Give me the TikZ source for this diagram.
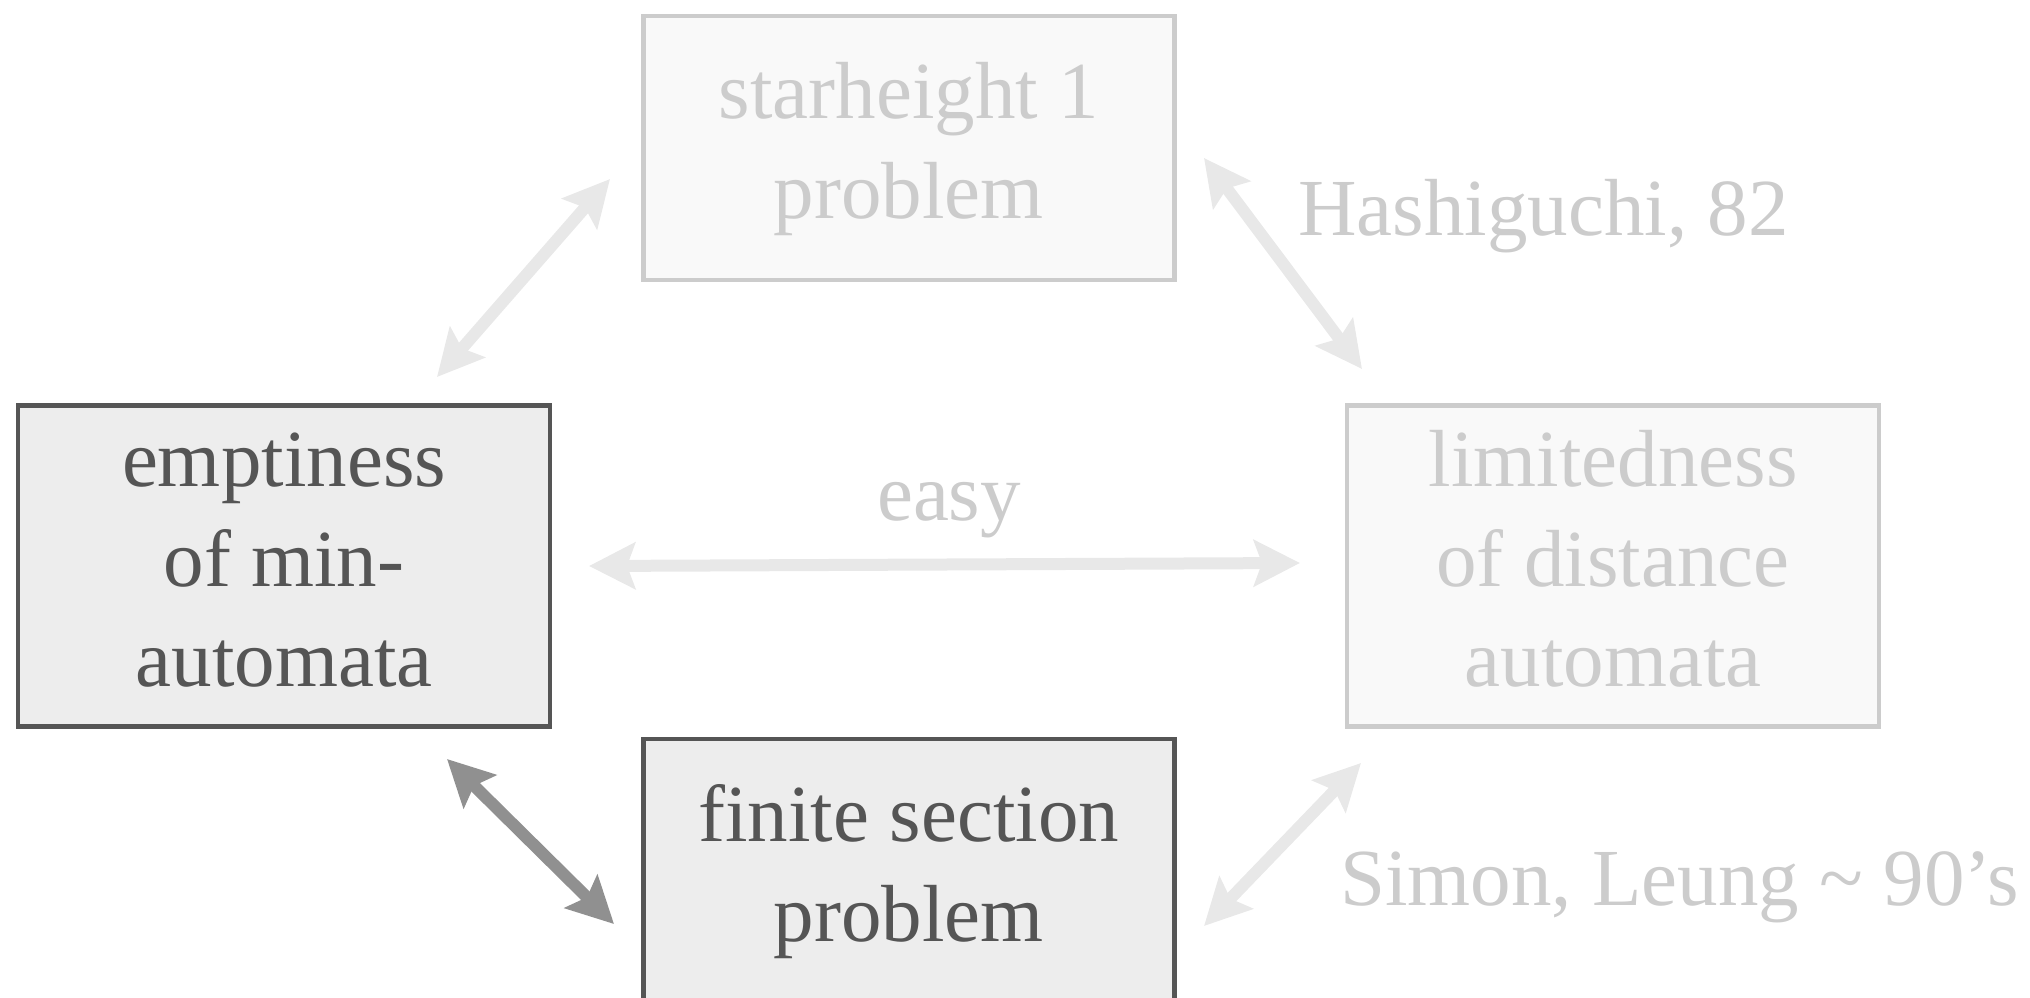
\documentclass[tikz,border=0pt]{standalone}
\usepackage{fontspec}
\setmainfont{Liberation Serif}
\usetikzlibrary{arrows.meta}
\definecolor{darkline}{HTML}{555555}
\definecolor{darkfill}{HTML}{EDEDED}
\definecolor{lightline}{HTML}{CCCCCC}
\definecolor{lightfill}{HTML}{F9F9F9}
\definecolor{lighttext}{HTML}{CCCCCC}
\definecolor{lightarrow}{HTML}{E8E8E8}
\definecolor{darkarrow}{HTML}{909090}
\tikzset{
  bigfont/.style={font=\fontsize{81}{100}\selectfont},
  darkbox/.style={draw=darkline, fill=darkfill, text=darkline, line width=4.5pt, bigfont, align=center, inner sep=0pt},
  lightbox/.style={draw=lightline, fill=lightfill, text=lighttext, line width=4.5pt, bigfont, align=center, inner sep=0pt},
  widebox/.style={minimum width=532pt, minimum height=321pt},
  flatbox/.style={minimum width=531pt, minimum height=264pt},
  note/.style={text=lighttext, bigfont, inner sep=0pt, anchor=base west},
  tipshape/.style={Stealth[length=46pt,width=46pt,inset=8pt]},
  lightarr/.style={draw=lightarrow, line width=12pt, {Stealth[length=46pt,width=46pt,inset=8pt]}-{Stealth[length=46pt,width=46pt,inset=8pt]}},
  darkarr/.style={draw=darkarrow, line width=12pt, {Stealth[length=46pt,width=46pt,inset=8pt]}-{Stealth[length=46pt,width=46pt,inset=8pt]}}
}
\begin{document}
\begin{tikzpicture}[x=1pt,y=-1pt]
\useasboundingbox (0,0) rectangle (2030,997);
\begin{scope}
\clip (0,0) rectangle (2030,997);
\node[lightbox, flatbox] (top) at (908.75,148) {\strut starheight 1\\\strut problem};
\node[darkbox, widebox] (left) at (284,566) {\strut emptiness\\\strut of min-\\\strut automata};
\node[lightbox, widebox] (right) at (1613,566) {\strut limitedness\\\strut of distance\\\strut automata};
\node[darkbox, flatbox] (bottom) at (908.75,871) {\strut finite section\\\strut problem};

\node[note] (hashi) at (1298,235) {Hashiguchi, 82};
\node[note] (simon) at (1340,905) {Simon, Leung \char"7E{} 90’s};
\node[text=lighttext, bigfont, inner sep=0pt, anchor=base] (easy) at (949,520) {easy};

\coordinate (tl1) at (437,377);
\coordinate (tl2) at (610,179);
\coordinate (tr1) at (1204,158);
\coordinate (tr2) at (1362,369);
\coordinate (m1) at (589,566);
\coordinate (m2) at (1300,563);
\coordinate (bl1) at (447,759);
\coordinate (bl2) at (614,924);
\coordinate (br1) at (1361,763);
\coordinate (br2) at (1204,926);

\draw[lightarr] (tl1) -- (tl2);
\draw[lightarr] (tr1) -- (tr2);
\draw[lightarr] (m1) -- (m2);
\draw[darkarr] (bl1) -- (bl2);
\draw[lightarr] (br1) -- (br2);
\end{scope}
\end{tikzpicture}
\end{document}
